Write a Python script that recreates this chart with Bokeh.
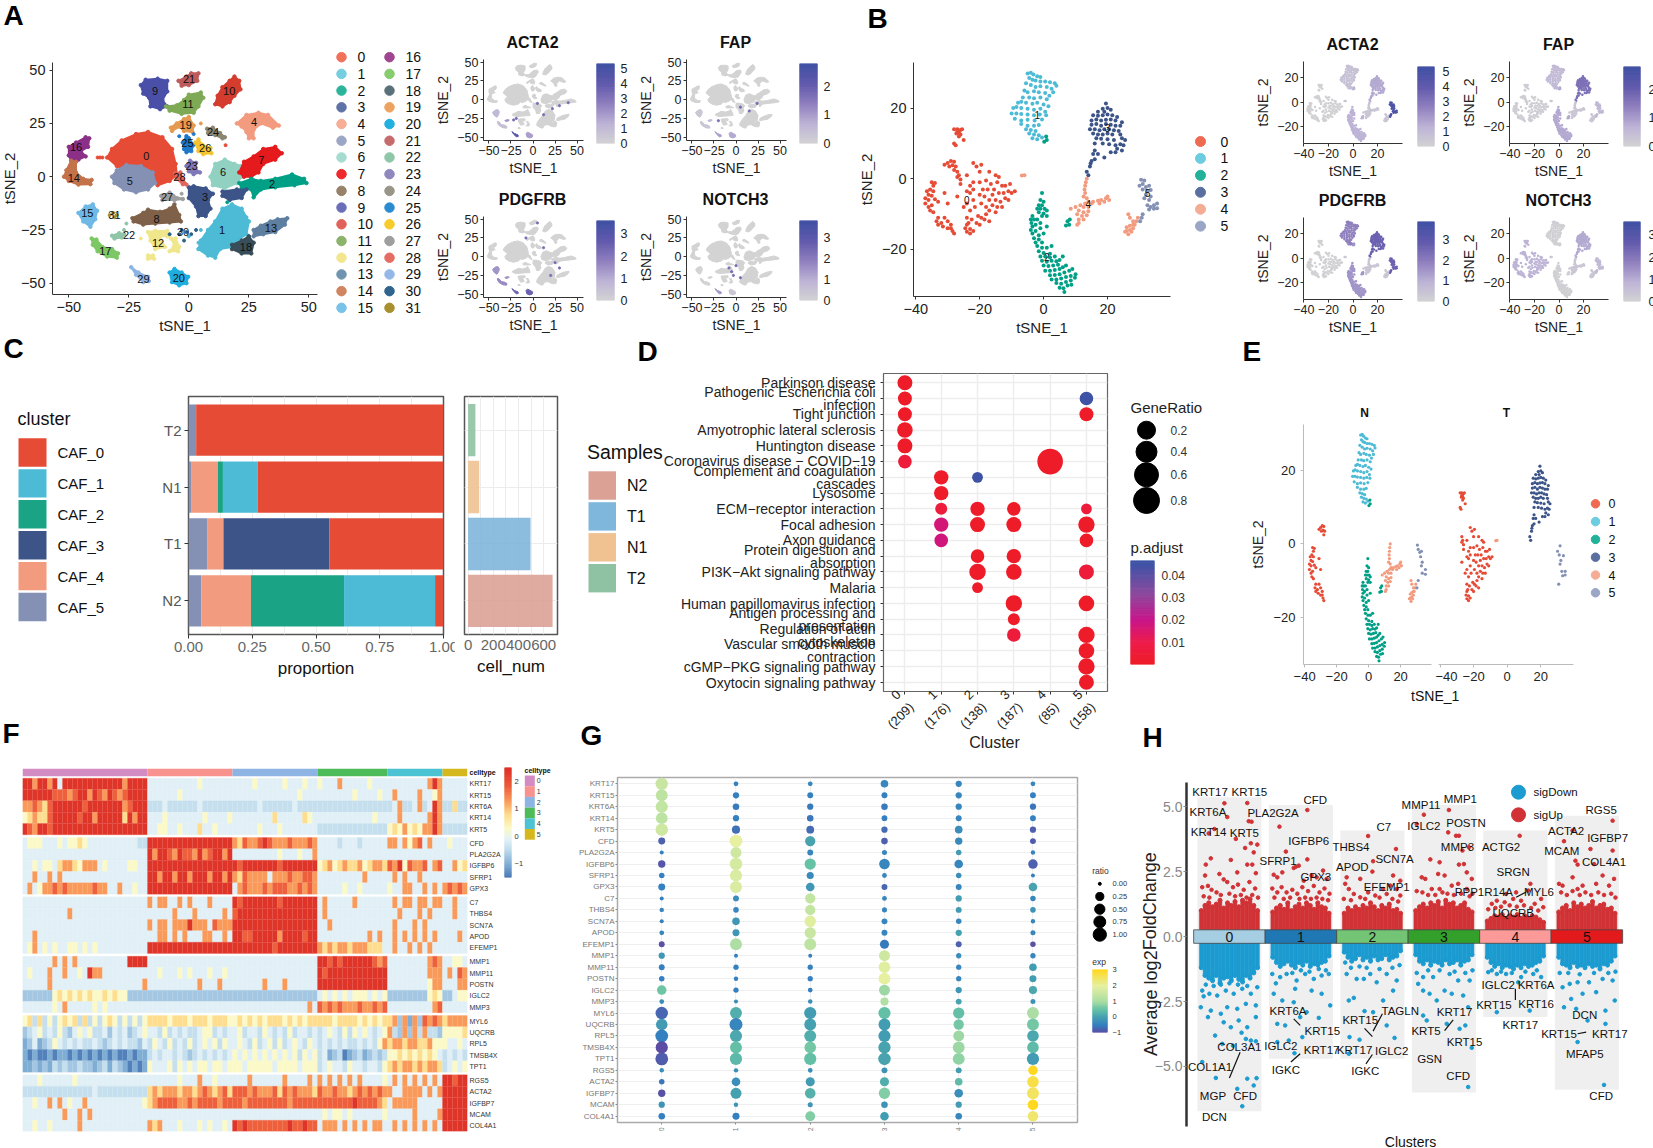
import numpy as np
from bokeh.plotting import figure
from bokeh.models import Range1d, Column, FixedTicker
from bokeh.core.properties import value
from bokeh.embed import file_html
from bokeh.resources import INLINE

FONT = "Liberation Sans"
# ---------------------------------------------------------------- panel A data (tSNE outlines of dense clusters)
A_COLORS = ["#E64B35","#4DBBD5","#00A087","#3C5488","#F39B7F","#8491B4","#91D1C2","#E41A1C","#7E6148","#4A4FA8","#D43C2E","#7FAA55","#F0E68C","#5F7FA0","#C4724A","#6EB9E6","#8B2F87","#7DC765","#384E5A","#E59A50","#1EAEE0","#BE5B5B","#8FC6A8","#8078B8","#8B8570","#1F78C8","#F4C430","#9E9E9E","#E0665C","#8EB4E3","#2E5F85","#A69030"]
A_LEGEND = ["#F0705A","#76CFE0","#2AB49B","#5E73A5","#F7AE96","#9CA7C6","#A6DCCF","#EE2A2E","#98806A","#6A6DB8","#E1625A","#8CB36B","#F2E78E","#7094AF","#D08560","#7AC3E8","#A04590","#88CC70","#5A7078","#EDA35F","#21B0E0","#C56B6B","#8FC6A8","#8E88BE","#9A9687","#2B8BD0","#F6CB2A","#9E9E9E","#E56C62","#93B8E8","#2E648E","#A8902F"]
A_PARTS = [
 (0,[(-34,9),(-32,13),(-28,17),(-22,20),(-17,21),(-11,18.5),(-7,13),(-5.5,6),(-5,1),(-8,-2),(-13,-4),(-14,0),(-20,2),(-26,3),(-30,5)]),
 (5,[(-32,0),(-30,3),(-26,5.5),(-20,5),(-15,2),(-14,-3),(-17,-6),(-22,-7.3),(-27,-6),(-31,-3)]),
 (16,[(-50,10),(-50,14),(-47,16),(-43,18.5),(-41.5,18),(-42,14),(-45,12),(-43,9.5),(-46,8),(-49,7.5)]),
 (14,[(-49,7.5),(-47,7),(-47,2),(-44,-1),(-40.5,-1.5),(-41,-3.5),(-46,-3.7),(-50,-2),(-52,0),(-51,3)]),
 (9,[(-20,43),(-18,45.5),(-13,46),(-9,45),(-9,40),(-11,36),(-9,33),(-12,31.7),(-16,33),(-16.5,37),(-19,39)]),
 (21,[(-4.3,45),(-1,47),(1,48.5),(4,48.5),(3.5,45),(0,43),(-3,42.7)]),
 (10,[(14,33),(11,34),(12,38),(14,42),(17,45),(19,47),(21,45),(21.5,41),(19,38),(17,35)]),
 (11,[(-9.5,33),(-5,33.5),(-2,36),(0,38.5),(5,39.5),(6,37),(4,33),(2,30),(-3,29.5),(-8,31)]),
 (19,[(-7.5,23),(-5,25),(-2,27),(0,28),(2,24),(1.5,21),(-2,21.5),(-4,23.5),(-7,21.5)]),
 (25,[(-2.5,16),(-1,19),(0,18),(2,15),(1,12),(-1,11.5),(-2,13)]),
 (26,[(2.7,16),(4,17.5),(5.5,15),(9,13.5),(9.4,11),(6,10.6),(4,12)]),
 (24,[(7.6,22.5),(10,23),(13,20.5),(15,18.5),(14,18),(11,19.5),(8,20.5)]),
 (4,[(20,25),(24,29),(29,30),(33,29),(37.5,24),(35,23),(30,25),(27,22),(27,18),(25,18),(24,21),(22,23.5)]),
 (6,[(9,0),(11,6),(15,8),(19,6),(22,5),(22,0),(20,-3),(15,-5.5),(10,-4)]),
 (7,[(21,2),(23,7),(27,9.5),(31,13),(36,14),(38.7,11),(36,8),(31,6),(29,2),(26,0),(23,0)]),
 (2,[(21,-3),(26,-1),(30,-2),(36,-1),(43,1),(48,-1),(49,-3),(44,-4),(36,-5),(30,-6),(27,-9.7),(26,-6),(22,-5.5)]),
 (3,[(0,-5),(2,-4.5),(7,-5.5),(10,-8),(8,-11),(9,-15),(7,-18.5),(4,-18.5),(3,-14),(0,-10)]),
 (3,[(14,-7),(20,-6),(24,-6),(22,-10),(17,-11),(14,-9)]),
 (1,[(5,-30),(8,-25),(11,-21),(14,-15),(18,-13),(22,-15),(25,-21),(24,-27),(20,-30),(18,-33),(13,-34),(11,-38),(8,-37),(4,-34)]),
 (13,[(27,-25),(30,-23),(34,-21),(37,-20),(41,-19.5),(40,-22.5),(36,-26),(31,-27),(27,-28)]),
 (18,[(18,-32),(22,-30),(25,-28),(27,-31),(26,-36),(22,-36),(18,-34)]),
 (8,[(-23.5,-19.5),(-19,-17),(-17,-15.5),(-12,-16.5),(-8,-15),(-6,-13),(-4,-18),(-3.3,-21),(-8,-21.5),(-14,-22),(-19,-22.5),(-23,-21)]),
 (15,[(-46,-17),(-43,-14),(-40,-13),(-38.2,-16),(-39,-20),(-41,-23.5),(-44,-21)]),
 (17,[(-40.5,-29),(-38.5,-29.5),(-36,-33),(-32,-34),(-29.5,-36),(-30,-38),(-34,-37.5),(-38,-35),(-40,-32)]),
 (22,[(-32,-27.7),(-29,-26.5),(-27,-27),(-28,-28.5),(-31,-29)]),
 (12,[(-17,-26),(-14,-25.5),(-9,-25.5),(-9,-28),(-12,-28),(-10,-33),(-14,-34),(-16,-30)]),
 (12,[(-7.5,-29),(-5.5,-29),(-4,-33),(-4.5,-35),(-8,-35),(-6,-32)]),
 (12,[(-17,-37),(-15,-37),(-14.5,-38.5),(-17,-38.5)]),
 (27,[(-11.5,-9),(-8,-7.5),(-6.5,-9),(-2.5,-10.5),(-6,-11),(-11,-11)]),
 (28,[(-5.8,1.5),(-3.5,2),(-2.5,-1),(-1,-3.7),(-2.5,-3.5),(-5,-1)]),
 (23,[(-1,5),(0.5,7.5),(3,6.5),(2.5,4),(4.6,2),(2,1.2),(0,2.5)]),
 (29,[(-24,-42.5),(-21,-45),(-17,-47),(-16.7,-49),(-19,-49.5),(-22,-46)]),
 (20,[(-8,-45),(-6,-43.3),(-3,-45),(-0.3,-47),(-1,-50),(-4,-51),(-7,-49.5)]),
]
A_LABEL_X = [-17.7,13.8,34.7,6.8,27.2,-24.6,14.3,30.2,-13.5,-14.1,16.8,-0.4,-12.8,34.2,-47.9,-42.3,-47,-34.8,23.8,-1.3,-4.2,0.1,-24.9,1.2,10.1,-0.6,6.8,-9.1,-3.9,-18.9,-2.4,-31]
A_LABEL_Y = [9.7,-25,-3.4,-9.5,25.8,-1.9,2,8,-19.7,40.2,40.3,34,-31,-24.2,-0.8,-16.9,13.8,-35,-33,24.2,-47.7,46,-27.5,5.2,20.8,15.6,13.3,-9.4,0,-48.1,-26.1,-18.1]
A_STRAY_X = [-38,-37,-36,-4,-8,1,3,-2,5,-27,-20,-2,5,15.3,-31.5,-30,-31,-33,-26,-1,-3,7,0,16,24,-3,-4,-5,2,4]
A_STRAY_Y = [9,9,9,-27,-27,-27,-25,-30,-25,-25,-29,27,25,14.8,-17,-18,-19,-18,-22,-26,-25,-29,-28,-12,-19,-8,19,24,20,-31]
A_STRAY_C = [0,0,0,30,30,30,30,30,1,22,12,19,19,0,31,31,31,31,22,30,30,1,1,2,1,27,25,19,25,1]
# tint of each expressing cluster in the four feature maps of panel A
A_GENES = ["ACTA2","FAP","PDGFRB","NOTCH3"]
A_TINT = {"ACTA2":{15:.2,17:.15,22:.4,29:.8,20:.35},"FAP":{15:.1,17:.1,22:.2,29:.35,20:.3},"PDGFRB":{15:.4,17:.45,22:.4,29:.7,20:.7},"NOTCH3":{29:.4,20:.1}}
A_DOTS_X = {"ACTA2":[-22,-19,5,12,22,30,40],"FAP":[-20,5,15,24],"PDGFRB":[5,12,-8,30,20,25],"NOTCH3":[-5,-8,-3,0,5]}
A_DOTS_Y = {"ACTA2":[-27,-25,-5,-20,-12,-8,-4],"FAP":[-28,-10,-15,-5],"PDGFRB":[45,12,25,-15,-25,-8],"NOTCH3":[-20,-15,-25,-12,-28]}
A_CBAR = {"ACTA2":(5.3,[0,1,2,3,4,5]),"FAP":(2.8,[0,1,2]),"PDGFRB":(3.6,[0,1,2,3]),"NOTCH3":(3.8,[0,1,2,3])}
# ---------------------------------------------------------------- panel B data
B_COLORS = ["#E64B35","#4DBBD5","#00A087","#3C5488","#F39B7F","#8491B4"]
B_LEGEND = ["#EE6A50","#6CCCE0","#22B29A","#5A6FA0","#F5AC95","#9BA6C6"]
B0 = [(-27,14),(-26.5,13),(-26,13.8),(-27.3,12.8),(-26,12.5),(-26.5,12),(-27,13.3),(-25.5,14),(-28,14),(-25,11),(-28,10),(-27.5,9.5),(-30,4.5),(-29,5),(-28,4.8),(-29.5,3.5),(-28.5,3.8),(-27.5,3.5),(-28,2.5),(-27,2),(-26.5,1),(-27,0.5),(-26,-0.2),(-31,4),(-22,4.5),(-21,3.5),(-20,2),(-19.5,4),(-24,1),(-26,-1.5),(-35,-1),(-34.5,-2),(-34,-1.2),(-35.5,-3),(-34.5,-3.5),(-36,-4.5),(-35,-4.8),(-37,-5.5),(-36,-6),(-34,-5.8),(-37,-7),(-36,-8),(-35,-7.5),(-35.5,-9),(-34.5,-9.5),(-33,-6.5),(-36.5,-3.5),(-30,-7),(-31,-4),(-27,-5),(-33,-11),(-33.5,-12),(-32,-12.5),(-31.5,-13.5),(-33,-13),(-30,-14),(-29,-14),(-30,-12),(-31,-11),(-29,-13),(-28,-15.5),(-28.5,-14.8),(-24,-13),(-24.5,-14),(-23,-14.2),(-24,-15),(-23,-15.5),(-22,-14.8),(-23.5,-12.5),(-22.5,-11.5),(-24,-11),(-21,-12.5),(-20,-13),(-19.5,-11),(-18.5,-11.5),(-18,-10),(-20.5,-10.5),(-17,-12),(-25,-8),(-24,-7),(-23,-9),(-22,-6),(-23,-4),(-21.5,-8),(-24,-3.5),(-23,-2),(-22,-3),(-20,-1),(-19,-3),(-20,-4.5),(-18.5,-5),(-17.5,-3),(-16.5,-1.5),(-18,-0.5),(-15.5,-3),(-16,-4.5),(-17,-6),(-15,-6),(-14,-4),(-13,-2),(-14.5,-1),(-12.5,-4),(-11,-3.5),(-12,-5.5),(-13.5,-6.5),(-14.5,-8),(-16,-7.5),(-18,-8),(-19.5,-7),(-12,-2),(-10,-4),(-9,-3.5),(-11,-6),(-10.5,-1.5),(-15,1),(-17,2),(-15,-9.5),(-13,-8),(-17,-9),(-14,0.5),(-22,-1)]
B1 = [(-5,29.8),(-4,30),(-3.2,29.5),(-2,29),(-1,28.8),(-4.5,28.5),(-3.5,28),(-2.5,27.8),(-1,27.5),(0.5,27.5),(2,27.3),(3.5,27),(4,26.3),(-5.5,27),(-4,26.5),(-2.5,26),(-1,26.2),(1,26),(2.5,25.5),(3,24.5),(-6,25),(-5,24.5),(-3,24.8),(-1.5,24.5),(0.5,24.3),(1.8,23.5),(-6.5,23),(-4.5,23),(-3,22.8),(-1,23),(1,22.5),(-8,21.5),(-7,21.8),(-5.5,21.5),(-3.5,21.2),(-2,21.5),(0,21),(1.5,20.5),(-9.5,20),(-8.5,20.3),(-7,20),(-5,19.8),(-3,19.5),(-1,19.8),(0.5,19),(-10,18.5),(-8.5,18.5),(-7,18.3),(-5,18.2),(-3,18),(-1.2,18.2),(0.8,18),(-9,17),(-7,16.5),(-5,16.7),(-2.8,16.5),(-0.5,16.8),(-7,15.5),(-5,15),(-3,15),(-1.5,15.2),(-5.5,14),(-4,13.8),(-2.5,13.5),(-4.5,12.8),(-3,12.5),(-1.5,12.3),(-3.5,11.5),(-2,11.2),(-0.5,11.7)]
B2 = [(0.8,12),(1,11),(0.2,10.5),(-0.5,-4),(-1,-6),(-0.5,-7.5),(0,-6.5),(-1.5,-7.5),(-2,-8.5),(-1,-8.5),(0.3,-8.5),(-1.5,-9.5),(0,-9.8),(1,-9),(-0.5,-10.5),(1,-10.5),(-3.5,-10.5),(-3,-11.5),(-4,-11.5),(-2,-11.5),(-3.8,-12.5),(-2.5,-13),(-1,-12.5),(-3.5,-13.5),(-4,-14.5),(-2.5,-14.8),(-1,-14),(1,-13.5),(-3.5,-15.5),(-1.5,-16),(0,-15.5),(-3,-16.8),(-1.5,-17.2),(-2.5,-18),(-0.5,-18),(-2,-19),(-0.5,-19.5),(1,-19.5),(-1.5,-20.5),(0,-21),(2,-21.2),(2.5,-19),(-1,-22),(0.5,-22),(2,-22.3),(3.5,-22),(-0.5,-23.2),(1,-23.5),(2.5,-23.2),(4,-23.3),(5,-23),(0,-24.5),(1.5,-24.7),(3,-24.5),(4.5,-24.3),(0.5,-26),(2,-26),(3.5,-25.8),(5,-25.5),(6,-25),(7,-24.5),(2,-27.3),(3.5,-27.2),(5,-27),(6.5,-26.5),(8,-26),(9,-25.5),(2.5,-28.5),(4,-28.5),(5.5,-28.2),(7,-27.8),(8.5,-27.5),(10,-27),(4,-29.5),(5.5,-29.7),(7,-29.2),(8.5,-28.8),(9.8,-28),(5,-30.8),(6.2,-31),(7.5,-30.2),(8.7,-30),(6.5,-32),(7.5,-12),(8,-13),(7,-13.2),(8.2,-11.5),(6,-22)]
B3 = [(19.5,21.3),(20,20),(18.5,19.8),(17,19),(19,19),(21,19.5),(15.5,18),(17,17.8),(18.5,18),(20,18.2),(21.5,18),(23,17.5),(15,16.5),(16.5,16.8),(18,16.5),(19.5,16.7),(21,16.8),(22.5,16.5),(24.5,16),(15,15.3),(16.5,15.5),(18,15),(19.5,15.5),(21,15.3),(22.5,15),(24,15),(14.5,14),(16,14),(17.5,13.7),(19,14),(20.5,14),(22,13.7),(23.5,13.5),(15.5,12.8),(17,12.5),(18.5,12.5),(20,12.8),(21.5,12.5),(24,12.5),(16.5,11.5),(18,11.3),(20,11.2),(22,11),(24.5,11.5),(25.5,11),(16,10),(18.5,10),(20.5,9.8),(22.5,9.5),(24,9.8),(25,9.5),(23,8.5),(24.5,8),(22.5,7.5),(21,7.5),(16,8),(15.5,7),(17,7),(16,5.5),(15,5),(14.5,3.5),(13.5,2),(14.7,4.3),(19,6),(14,1)]
B4 = [(-6.8,0.9),(-6,1),(13.5,0),(13.2,-1),(13,-2),(12.8,-3),(13,-4),(12.5,-5),(13.5,-5.5),(14,-6.5),(15,-7),(13,-7),(11.5,-7.5),(10,-8),(8.5,-8.5),(12.5,-8),(14,-8),(15.5,-6.5),(17,-6.2),(18,-6),(19.5,-5.5),(20.5,-6),(19,-6.5),(17.5,-7),(20,-5),(11,-9),(12.5,-9.5),(14,-9.2),(10.5,-10),(12,-10.5),(13.5,-10.3),(11,-11.5),(12.5,-11.5),(11,-12.5),(10.5,-13),(27,-11),(26.5,-10),(28,-12),(28,-13),(27,-13.3),(26,-13.7),(28,-14),(27,-14.5),(26,-14.8),(25.5,-15),(27.5,-15),(26.5,-15.7),(28.5,-13),(29,-12),(29.5,-11)]
B5 = [(30.5,-0.3),(31.5,-0.5),(31,-1.5),(30,-2),(32,-2.3),(31,-3),(32.5,-3.5),(33.5,-3.2),(33,-2),(32,-4.5),(33.5,-5),(31.5,-5.5),(33,-6),(32.5,-7.5),(33.5,-8),(34.5,-7.5),(35.5,-7),(34.5,-8.5),(35.5,-8.3),(33,-8.7),(31,-10),(30.7,-11),(30.2,-12)]
B_ALL = [B0,B1,B2,B3,B4,B5]
B_LABEL_X = [-24,-2,1,20,14,32.5]
B_LABEL_Y = [-6,18,-22,14.5,-7,-4]
B_GENES = ["ACTA2","FAP","PDGFRB","NOTCH3"]
B_TINT = {"ACTA2":[.02,.15,.25,.3,.1,.9],"FAP":[.05,.2,.3,.6,.1,.2],"PDGFRB":[.02,.5,.4,.7,.1,.7],"NOTCH3":[.25,.04,.03,.3,.1,.2]}
B_CBAR = {"ACTA2":(5.3,[0,1,2,3,4,5]),"FAP":(2.8,[0,1,2]),"PDGFRB":(3.9,[0,1,2,3]),"NOTCH3":(3.6,[0,1,2,3])}
# ---------------------------------------------------------------- panel C data
C_SAMPLES = ["N2","T1","N1","T2"]
C_CLUSTERS = ["CAF_0","CAF_1","CAF_2","CAF_3","CAF_4","CAF_5"]
C_COLORS = ["#E64B35","#4DBBD5","#1AA385","#3C5488","#F39B7F","#8491B4"]
C_CAF5 = [.05,.075,.01,.03]
C_CAF4 = [.195,.062,.105,0]
C_CAF3 = [0,.415,0,0]
C_CAF2 = [.365,0,.02,0]
C_CAF1 = [.357,0,.137,0]
C_CAF0 = [.033,.448,.728,.97]
C_CELLS = [671,496,88,58]
C_CELL_COLORS = ["#DBA195","#7FB6DC","#F0C291","#8FC2A2"]
# ---------------------------------------------------------------- panel D data
D_TERMS = ["Parkinson disease","Pathogenic Escherichia coli\ninfection","Tight junction","Amyotrophic lateral sclerosis","Huntington disease","Coronavirus disease − COVID−19","Complement and coagulation\ncascades","Lysosome","ECM−receptor interaction","Focal adhesion","Axon guidance","Protein digestion and\nabsorption","PI3K−Akt signaling pathway","Malaria","Human papillomavirus infection","Antigen processing and\npresentation","Regulation of actin\ncytoskeleton","Vascular smooth muscle\ncontraction","cGMP−PKG signaling pathway","Oxytocin signaling pathway"]
D_CLUSTER_LABELS = ["0\n(209)","1\n(176)","2\n(138)","3\n(187)","4\n(85)","5\n(158)"]
D_COL = [0,0,5,0,5,0,0,0,4,1,2,1,1,2,3,5,1,2,3,5,1,5,2,3,2,3,5,2,3,5,3,3,5,5,5,5]
D_ROW = [0,1,1,2,2,3,4,5,5,6,6,7,8,8,8,8,9,9,9,9,10,10,11,11,12,12,12,13,14,14,15,16,16,17,18,19]
D_RATIO = [.25,.2,.18,.2,.2,.28,.25,.18,.78,.22,.04,.22,.1,.22,.18,.04,.22,.25,.25,.32,.18,.18,.18,.22,.32,.28,.25,.04,.32,.28,.1,.18,.32,.28,.32,.25]
D_PADJ = [.001,.001,.045,.001,.001,.001,.001,.006,.001,.001,.045,.001,.006,.001,.001,.006,.017,.001,.001,.001,.018,.001,.001,.001,.001,.001,.006,.001,.001,.001,.001,.006,.001,.001,.001,.001]
# ---------------------------------------------------------------- panel F data (one character per column: 0 dark blue .. 9 red)
F_GENES = ["KRT17","KRT15","KRT6A","KRT14","KRT5","CFD","PLA2G2A","IGFBP6","SFRP1","GPX3","C7","THBS4","SCN7A","APOD","EFEMP1","MMP1","MMP11","POSTN","IGLC2","MMP3","MYL6","UQCRB","RPL5","TMSB4X","TPT1","RGS5","ACTA2","IGFBP7","MCAM","COL4A1"]
F_CLUSTER_COLS = [25,17,17,14,11,5]
F_CLUSTER_COLORS = ["#D28CC3","#F8928E","#8DB4E2","#4DBB5A","#4CC3D2","#D4B81E"]
F_ROWS = [
"9979979499999999999979999 44444444445444444 44445444445444544 54447444445444 44444444797 44444",
"9999998887899798798789999 44444454444444444 44444444444445444 44444445444454 47444474457 44444",
"7787689999998999999978999 33343333334333333 33333433333343333 33333333333333 34733473497 33633",
"5676689999989979999969799 44454444444544445 44444444644444654 44444444444544 44744444797 44444",
"9879989999999999999999999 44554454446445444 44444544454444444 33333333333333 56575657797 33333",
"4555444545565444444444433 99999999999999999 76877898777877787 44443444344444 77475784744 45444",
"4444444444444444444444444 97998798879789979 44444444454445447 44444444444444 44444444444 44444",
"4454554677657774544445544 99999999999999999 98999999989999999 56756766756776 87958778478 44756",
"4474474744444444444444444 99799799799979979 76877774777877887 44444444474444 47474474444 44444",
"4745778787777787744744544 99999999999999999 47877787888778787 44444544544444 54477447474 78787",
"4444444444444444444444444 74774474744474444 98999999989999999 47444447444444 47477477477 44744",
"4444444447444444444444444 44444744474444474 89999999999999999 47444444444444 44744474744 44744",
"4444444444444444444444444 74774777977748777 99999999999999999 44744444444444 47444747444 44444",
"4474444444444444444444444 44774747444774474 99889999979999899 44444444447474 47474747474 44474",
"4574545445545454444444444 99999999999999999 99999999899999999 76767767776664 47447474744 44444",
"4444447474744444444449999 44444444444444444 44444444444444444 99898999999878 44444444787 44554",
"4544474474454977444444444 44544454544454454 44444444444444444 98999999999999 44444444777 47487",
"4444474444444444444444447 44444444447444744 44444474447444444 99999999999999 44444444577 44477",
"2222225656565655656552222 22222222222222222 22222222222222222 45454545554545 22222222565 22455",
"4444445474444454544444444 44444444444444444 44444444444444474 87878777877878 44444444478 44444",
"5636353565636353565353535 66665666566656665 56565656665656566 66656666565656 67271728787 67777",
"2345343532454533424342345 44353434334553434 45344354343534434 34543535454345 73272737332 55556",
"1241235434343343234343324 35435343534545354 45435345353454354 34343433434357 67767766755 54454",
"1010010110101010101001011 34344343234343434 54545454545453545 34123012312323 55656565654 34343",
"1121213232232212313210101 54445354545545545 55455555455554555 34544354434435 67677676776 34545",
"4445444444544444444444444 44444454447445444 44474444447444474 74747474744445 47474747474 99899",
"3333333333333343333333333 67677767767876786 88878777868787776 87787767878787 74477774747 99999",
"4454474745447444444444445 67888877878888788 88788888888788888 88888889888876 47777744444 99999",
"4444444474474744444444444 44444444444444444 44444444444444444 45455454444445 44444744447 99999",
"4454454444474444444444444 76744454445454454 98988888888988988 47774747474774 47474747474 99999",
]
F_LEVELS = [-1.4,-1.0,-.7,-.4,-.12,.3,.8,1.3,1.8,2.4]
# ---------------------------------------------------------------- panel G data (six clusters per gene)
G_GENES = F_GENES
G_RATIO = [[.83,.03,.03,.2,.1,.03],[.75,.1,.08,.08,.1,.08],[.8,.12,.1,.12,.1,.1],[.72,.1,.12,.07,.08,.08],[.85,.25,.22,.1,.2,.1],[.15,.9,.5,.12,.18,.08],[.01,.6,.08,.04,.06,.02],[.18,.85,.65,.55,.3,.4],[.06,.8,.16,.03,.06,.01],[.15,.78,.3,.08,.08,.3],[.01,.08,.5,.03,.1,.06],[.02,.06,.5,.04,.08,.06],[.01,.2,.7,.08,.06,.02],[.03,.15,.65,.08,.1,.04],[.08,.75,.75,.35,.08,.06],[.1,.01,.01,.6,.05,.05],[.08,.05,.05,.7,.05,.2],[.06,.02,.05,.75,.05,.15],[.4,.05,.03,.6,.1,.25],[.03,.01,.02,.25,.08,.04],[.85,.75,.8,.8,.65,.75],[.7,.95,.75,.75,.5,.75],[.9,.8,.75,.8,.6,.7],[.8,.75,.7,.8,.75,.7],[.9,.8,.8,.85,.75,.8],[.02,.02,.03,.08,.08,.4],[.06,.3,.35,.35,.2,.7],[.18,.6,.55,.65,.3,.75],[.1,.02,.04,.12,.1,.55],[.12,.15,.45,.3,.12,.55]]
G_EXP = [[1.5,-.5,-.4,-.4,-.4,-.4],[1.3,-.5,-.5,-.5,-.4,-.5],[1.4,-.55,-.55,-.55,-.4,-.6],[1.3,-.5,-.6,-.5,-.4,-.5],[1.6,-.65,-.7,-.7,-.3,-.8],[-.8,2,.05,-.8,-.35,-.85],[-.5,1.6,-.4,-.4,-.1,-.4],[-.9,1.7,.5,-.4,-.4,-.8],[-.5,1.8,-.35,-.4,-.3,-.5],[-.5,1.8,-.15,-.75,-.4,.05],[-.5,-.3,1.4,-.4,-.05,-.4],[-.4,-.4,1.4,-.4,-.1,-.2],[-.5,-.15,1.9,-.4,-.4,-.4],[-.4,-.15,1.5,-.4,0,-.4],[-.95,1.05,1.3,-.55,-.8,-.95],[-.15,-.5,-.5,1.6,-.3,-.4],[-.5,-.5,-.5,1.9,-.4,-.05],[-.5,-.5,-.5,2,-.4,-.05],[.55,-.5,-.5,.9,-.15,.1],[-.3,-.3,-.3,1.1,.05,-.2],[-.75,.2,-.05,.45,.45,1],[-.1,-.4,0,-.05,.6,.6],[-.5,.1,.2,-.05,.9,.1],[-1,.45,.6,.05,.9,.4],[-.85,.35,.45,.05,.8,-.1],[-.3,-.3,-.3,-.2,-.05,3],[-.6,-.3,-.1,.2,.4,2.7],[-.95,0,.25,.7,-.3,2.5],[-.2,-.2,-.2,-.2,-.1,3],[-.5,-.5,.7,-.05,-.4,2.4]]
# ---------------------------------------------------------------- panel H data
H_BAR_COLORS = ["#A6CEE3","#1F78B4","#74C476","#33A02C","#FB9A99","#E31A1C"]
H_TOP = [5.36,5.06,4.08,5.06,4.08,4.65]
H_BOTTOM = [-6.72,-4.7,-4.7,-6,-3.1,-5.9]
H_UP_EDGE = [[1.0,1.2,1.3,1.15,1.25,1.4,1.1,1.3,1.2,1.35,1.15,1.4,1.3,1.45,1.2,1.0],[.95,1.1,1.2,1.05,1.3,1.0,1.15,1.25,1.1,1.3,1.2,1.05,1.3,1.15,1.1,.9],[.9,1.1,1.0,1.15,1.05,1.2,1.1,1.3,1.15,1.0,1.2,1.1,1.25,1.0,1.05,.9],[1.0,1.15,1.25,1.1,1.3,1.2,1.35,1.1,1.4,1.25,1.3,1.1,1.2,1.3,1.05,.95],[.6,.7,.8,.75,.85,.7,.8,.75,.85,.7,.8,.7,.8,.75,.65,.55],[.95,1.1,1.2,1.0,1.3,1.15,1.25,1.1,1.2,1.35,1.1,1.2,1.25,1.05,1.1,.9]]
H_DOWN_EDGE = [[-1.2,-1.5,-1.6,-1.7,-1.5,-1.8,-1.6,-1.55,-1.7,-1.5,-1.65,-1.75,-1.5,-1.6,-1.4,-1.2],[-.8,-1,-1.15,-1.05,-.95,-1.1,-1.2,-1,-1.1,-.95,-1.15,-1.05,-1.1,-1,-.95,-.75],[-.6,-.8,-.95,-.85,-.7,-.9,-.8,-.95,-.75,-.9,-.85,-.7,-.9,-.8,-.75,-.55],[-.7,-.95,-1.05,-.9,-1.1,-.95,-1.0,-1.1,-.9,-1.05,-1,-.9,-1.1,-.95,-.9,-.7],[-.8,-1.0,-1.15,-1.05,-1.2,-1.1,-1.15,-1.25,-1.1,-1.2,-1.05,-1.15,-1.1,-1.0,-.95,-.75],[-.8,-1.05,-1.1,-1.2,-1,-1.15,-1.1,-1.2,-1.05,-1.15,-1.1,-1.25,-1.05,-1.1,-.95,-.75]]
H_UP = [
 [(-.07,5.13),(.25,5.14),(-.03,4.6),(.27,4.44),(.31,4.42),(-.21,4.14),(-.29,3.97),(.09,3.76),(.3,3.59),(.39,3.54),(.22,3.41),(.34,3.24),(.02,2.95),(-.26,3.01),(-.33,2.77),(.25,2.77),(.32,2.77),(-.34,2.35),(-.14,2.41),(.11,2.47),(.37,2.44),(-.38,1.9),(-.3,1.95),(-.25,1.8),(-.18,1.7),(-.08,2.2),(-.03,2.1),(.05,1.9),(.12,2.0),(.2,1.8),(.28,2.1),(.36,1.85),(-.36,1.55),(-.28,1.5),(-.12,1.6),(.0,1.65),(.08,1.55),(.16,1.6),(.24,1.5),(.32,1.6),(.4,1.5)],
 [(.09,4.87),(-.3,4.23),(-.21,3.27),(.09,2.97),(-.1,2.64),(-.07,2.69),(-.03,2.73),(-.38,2.38),(-.33,2.28),(.04,2.15),(.15,2.35),(.22,2.28),(.31,2.54),(.36,2.22),(-.26,2.47),(-.4,1.85),(-.33,1.7),(-.27,1.9),(-.2,1.7),(-.12,1.8),(-.05,1.65),(.02,1.9),(.1,1.75),(.18,1.95),(.26,1.7),(.33,1.85),(.4,1.65),(-.37,1.5),(-.24,1.45),(-.15,1.5),(-.02,1.45),(.06,1.5),(.14,1.45),(.22,1.5),(.3,1.45),(.38,1.4)],
 [(-.06,3.87),(.33,3.37),(.01,2.9),(0,2.5),(-.36,2.28),(-.17,2.22),(.29,2.35),(.39,2.15),(-.38,2.03),(-.33,1.83),(-.06,1.7),(.15,1.83),(.25,1.96),(.34,1.83),(-.26,1.64),(-.17,1.51),(.04,1.58),(.2,1.64),(.39,1.58),(-.4,1.45),(-.3,1.4),(-.1,1.45),(.1,1.5),(.28,1.45),(.36,1.35)],
 [(-.28,4.69),(.07,4.87),(-.38,4.33),(.06,4.01),(.17,3.88),(.21,3.88),(.35,3.44),(.26,3.31),(-.19,2.97),(-.06,2.86),(.21,2.77),(.28,2.79),(-.08,2.41),(.01,2.35),(.32,2.47),(-.31,2.28),(-.26,2.22),(.39,2.22),(-.17,1.83),(-.06,1.83),(.11,1.96),(.2,2.03),(.32,1.83),(-.38,1.75),(-.3,1.7),(-.22,1.6),(-.12,1.6),(-.02,1.7),(.05,1.65),(.14,1.6),(.24,1.65),(.36,1.55),(.4,1.65)],
 [(.06,3.88),(.21,2.03),(-.13,1.64),(.01,1.7),(.18,1.77),(.36,1.45),(-.33,1.26),(-.26,1.38),(-.15,1.32),(-.03,1.45),(.08,1.38),(.27,1.26),(.39,1.13),(-.38,1.05),(-.28,1.1),(-.2,1.15),(-.08,1.2),(.02,1.15),(.12,1.2),(.22,1.1),(.32,1.0)],
 [(.36,4.46),(-.2,4.08),(-.32,3.67),(.05,3.37),(.36,3.31),(-.16,2.92),(-.13,2.77),(.1,2.79),(-.34,1.96),(-.2,2.28),(-.06,1.96),(.22,2.35),(.38,2.22),(-.39,2.03),(-.13,1.83),(.13,2.03),(.31,1.96),(-.36,1.7),(-.28,1.6),(-.2,1.75),(-.1,1.6),(-.02,1.7),(.06,1.6),(.16,1.7),(.24,1.6),(.34,1.65),(.4,1.5)],
]
H_DOWN = [
 [(-.38,-4.83),(-.19,-5.44),(.18,-6.53),(.11,-5.86),(.25,-5.47),(.38,-5.45),(.34,-5.73),(.23,-3.94),(.37,-4.03),(-.4,-2.72),(-.3,-3.1),(-.2,-3.81),(-.1,-4.13),(.02,-3.49),(.13,-3.23),(.25,-3.49),(.37,-3.1),(-.26,-2.85),(-.12,-2.97),(-.03,-2.72),(.11,-2.78),(.23,-2.59),(.37,-2.65),(-.38,-2.08),(-.28,-2.2),(-.17,-2.27),(-.05,-2.08),(.06,-2.2),(.18,-2.01),(.3,-2.2),(.39,-1.95),(-.33,-1.85),(-.22,-1.9),(-.12,-1.85),(.0,-1.8),(.12,-1.85),(.25,-1.9),(-.36,-2.3),(-.08,-3.3),(.05,-4.2),(.17,-3.7),(.3,-4.0)],
 [(-.38,-2.2),(-.26,-2.46),(-.1,-2.53),(-.08,-2.01),(.15,-2.08),(.25,-3.13),(.41,-2.65),(-.22,-3.42),(-.33,-3.36),(.02,-3.87),(-.33,-4.06),(-.17,-4.0),(-.09,-4.49),(-.01,-3.1),(.08,-2.91),(.29,-2.2),(-.4,-1.44),(-.29,-1.56),(-.2,-1.44),(-.06,-1.69),(.06,-1.44),(.18,-1.63),(.29,-1.5),(.39,-1.44),(-.35,-1.8),(-.12,-1.4),(.0,-1.3),(.12,-1.35),(.25,-1.25),(.35,-1.3)],
 [(-.33,-2.46),(-.26,-2.36),(-.32,-3.87),(-.18,-3.97),(-.33,-4.51),(-.11,-2.87),(.01,-2.91),(.29,-2.08),(.15,-2.46),(.2,-3.42),(.31,-3.9),(-.22,-1.63),(-.12,-1.63),(.06,-1.76),(.2,-1.44),(.34,-1.69),(-.36,-1.44),(-.03,-1.44),(-.3,-1.2),(-.18,-1.15),(-.08,-1.2),(.1,-1.25),(.28,-1.2),(.38,-1.1),(-.38,-1.0)],
 [(.34,-5.79),(.39,-4.28),(.3,-3.42),(.22,-3.55),(.04,-3.36),(-.24,-3.23),(-.29,-3.04),(-.36,-1.82),(-.29,-2.08),(-.2,-2.2),(-.1,-2.46),(.01,-2.08),(.11,-2.2),(.27,-2.27),(.36,-1.69),(.34,-2.72),(-.29,-1.56),(-.15,-1.56),(.08,-1.44),(.2,-1.69),(-.38,-1.4),(-.22,-1.3),(-.06,-1.3),(.15,-1.35),(.3,-1.4),(.4,-1.3)],
 [(-.38,-1.37),(-.26,-1.44),(-.26,-2.91),(.2,-2.85),(.04,-1.76),(-.13,-1.44),(.08,-1.56),(.25,-1.44),(.36,-1.56),(-.33,-1.3),(-.2,-1.35),(-.05,-1.4),(.14,-1.35),(.3,-1.3)],
 [(.24,-5.71),(.39,-2.46),(-.13,-4.06),(-.22,-2.4),(-.32,-2.72),(-.34,-1.95),(-.15,-2.78),(.01,-3.23),(.26,-3.36),(.13,-2.14),(.26,-2.85),(-.06,-2.2),(-.24,-1.82),(-.13,-1.76),(.03,-1.76),(.22,-1.63),(.36,-1.69),(-.38,-1.4),(-.26,-1.4),(-.1,-1.45),(.1,-1.4),(.3,-1.4),(.4,-1.35)],
]
H_LABELS = ["KRT17","KRT15","KRT6A","PLA2G2A","KRT14","KRT5","CFD","IGFBP6","SFRP1","GPX3","C7","THBS4","SCN7A","APOD","EFEMP1","MMP11","MMP1","IGLC2","POSTN","MMP3","ACTG2","SRGN","PPP1R14A","MYL6","UQCRB","RGS5","ACTA2","IGFBP7","MCAM","COL4A1","KRT6A","KRT15","IGLC2","KRT17","IGKC","KRT15","TAGLN","KRT17","IGLC2","IGKC","KRT17","KRT5","KRT15","GSN","CFD","IGLC2","KRT6A","KRT15","KRT16","KRT17","DCN","KRT15","KRT17","MFAP5","CFD","COL3A1","COL1A1","MGP","CFD","DCN"]
H_LABEL_X = [-.27,.28,-.3,.61,-.29,.21,1.2,1.11,.68,1.21,2.16,1.7,2.31,1.72,2.2,2.68,3.23,2.72,3.31,3.19,3.8,3.97,3.56,4.33,3.97,5.2,4.71,5.29,4.65,5.24,.82,1.3,.72,1.29,.79,1.83,2.39,1.75,2.27,1.9,3.15,2.75,3.29,2.8,3.2,3.76,4.29,3.7,4.29,4.07,4.97,4.61,5.32,4.97,5.2,.14,-.27,-.23,.22,-.21]
H_LABEL_Y = [5.55,5.55,4.78,4.76,4.03,4,5.27,3.68,2.91,2.28,4.21,3.46,2.97,2.69,1.91,5.08,5.29,4.27,4.36,3.44,3.44,2.47,1.71,1.71,.92,4.87,4.08,3.79,3.31,2.86,-2.85,-3.63,-4.23,-4.38,-5.13,-3.23,-2.88,-4.38,-4.42,-5.18,-2.91,-3.65,-4.06,-4.73,-5.37,-1.86,-1.85,-2.63,-2.6,-3.4,-3,-3.74,-3.74,-4.51,-6.14,-4.26,-5.03,-6.12,-6.12,-6.95]
H_SEG_X0 = [0,.9,.86,2.14,1.89,1.91,3.13,4,4.15,4.87]
H_SEG_Y0 = [-5.44,-3.17,-4.83,-2.97,-3.53,-4.9,-3.21,-2.01,1.71,-3.74]
H_SEG_X1 = [.15,.99,.99,2.01,2.0,2,3.01,4,4.01,4.99]
H_SEG_Y1 = [-4.45,-3.42,-4.51,-3.64,-3.85,-4.54,-3.62,-2.44,1.51,-3.68]
# ---------------------------------------------------------------- colour scales
PURPLE = [(0,"#D3D3D3"),(.25,"#BDB3D6"),(.5,"#8F7FBE"),(.75,"#6159AC"),(1,"#3F50A3")]
PADJ = [(0,"#EE1C25"),(.01,"#EE1C4A"),(.02,"#C8158A"),(.032,"#8A4A9E"),(.045,"#3F53A6")]
HEAT = [(-1.5,"#4575B4"),(-1,"#7FADD4"),(-.5,"#BBD9EB"),(-.1,"#E2F1F7"),(.3,"#FBF9C8"),(.8,"#FEDD8E"),(1.3,"#F99A5A"),(1.8,"#EE5F3C"),(2.5,"#DD2E26")]
SPEC = [(-1,"#5D4CA3"),(-.5,"#3480C0"),(0,"#45A0B0"),(.5,"#66C2A5"),(1,"#ABDDA4"),(2,"#E6F0A0"),(3,"#FFD821")]

def hx(c):
    return [int(c[i:i+2],16) for i in (1,3,5)]
def cmap(stops,v):
    xs=[s[0] for s in stops]; rgb=np.array([hx(s[1]) for s in stops])
    return "#%02x%02x%02x"%tuple(int(round(np.interp(v,xs,rgb[:,i]))) for i in range(3))
def minus(t):
    return str(t).replace("-","−")
PAGE=[]
def fig(x0,y0,x1,y1,xr,yr,ml=60,mr=12,mt=10,mb=50,xloc="below",yloc="left"):
    p=figure(width=int(round(x1-x0))+ml+mr,height=int(round(y1-y0))+mt+mb,min_border_left=ml,min_border_right=mr,min_border_top=mt,min_border_bottom=mb,
             x_range=Range1d(*xr),y_range=Range1d(*yr),output_backend="svg",toolbar_location=None,border_fill_color=None,background_fill_color=None,
             outline_line_color=None,x_axis_location=xloc,y_axis_location=yloc,frame_align=False)
    p.styles={"position":"absolute","left":f"{x0-ml}px","top":f"{y0-mt}px"}
    p.grid.visible=False
    PAGE.append(p)
    return p
def style(ax,ticks,labels=None,size=13,color="#222222",tick=3,line="#333333",lw=1,label=None,label_size=15,standoff=2,lab_standoff=3,orient=None,tick_color=None):
    ax.ticker=FixedTicker(ticks=list(ticks))
    ax.minor_tick_line_color=None
    ax.major_tick_out=tick; ax.major_tick_in=0
    ax.major_tick_line_color=tick_color or line or "#333333"
    ax.axis_line_color=line; ax.axis_line_width=lw
    ax.major_label_text_font=FONT; ax.major_label_text_font_size=f"{size}px"; ax.major_label_text_color=color
    ax.major_label_standoff=standoff
    ax.major_label_overrides={t:(labels[i] if labels else minus(t)) for i,t in enumerate(ticks)}
    if orient is not None: ax.major_label_orientation=orient
    if label:
        ax.axis_label=label; ax.axis_label_text_font=FONT; ax.axis_label_text_font_size=f"{label_size}px"
        ax.axis_label_text_font_style="normal"; ax.axis_label_text_color=color; ax.axis_label_standoff=lab_standoff
def cbar(x0,y0,x1,y1,vmin,vmax,stops,ticks,size=13,labels=None,color="#222222",standoff=4):
    p=fig(x0,y0,x1,y1,(0,1),(vmin,vmax),ml=0,mr=34,mt=10,mb=10,xloc=None,yloc="right")
    n=64; e=np.linspace(vmin,vmax,n+1)
    cs=[cmap(stops,v) for v in (e[:-1]+e[1:])/2]
    p.quad(left=0,right=1,bottom=e[:-1],top=e[1:],fill_color=cs,line_color=cs,line_width=1)
    style(p.yaxis[0],ticks,labels=labels,size=size,tick=0,line=None,standoff=standoff,color=color)
    return p
# ---------------------------------------------------------------- canvas for page-level texts and legends (moved to the top of the stack at the end)
canvas=fig(8,8,1645,1140,(8,1645),(1140,8),ml=0,mr=0,mt=0,mb=0,xloc=None,yloc=None)
def T(x,y,s,size=14,bold=False,align="left",color="#111111",angle=0):
    xs=[x] if not isinstance(x,(list,np.ndarray)) else list(x)
    ys=[y] if not isinstance(y,(list,np.ndarray)) else list(y)
    ss=[s] if isinstance(s,str) else list(s)
    canvas.text(xs,ys,text=ss,text_font=value(FONT),text_font_size=value(f"{size}px"),text_font_style="bold" if bold else "normal",text_align=align,text_baseline="middle",text_color=color,angle=angle)
for s,x,y in [("A",3,15),("B",867,18),("C",3,348),("D",637,351),("E",1242,351),("F",2,733),("G",580,735),("H",1142,737)]:
    lf=fig(x,y-18,x+34,y+18,(0,1),(0,1),ml=0,mr=0,mt=0,mb=0,xloc=None,yloc=None)
    lf.text([0],[.5],text=[s],text_font=value(FONT),text_font_size=value("28px"),text_font_style="bold",text_align="left",text_baseline="middle",text_color="#000000")
# ---------------------------------------------------------------- panel A
pa=fig(51.8,61.7,316.8,294,(-56.8,53.6),(-55.3,53.6),ml=60,mr=20,mb=50)
style(pa.xaxis[0],[-50,-25,0,25,50],size=14.5,label="tSNE_1",label_size=15,standoff=4,lab_standoff=2)
style(pa.yaxis[0],[-50,-25,0,25,50],size=14.5,label="tSNE_2",label_size=15,standoff=4,lab_standoff=0)
pa.yaxis[0].major_label_orientation="horizontal"
for cid,pts in A_PARTS:
    xs,ys=zip(*pts); c=A_COLORS[cid]
    pa.patch(list(xs),list(ys),fill_color=c,line_color=c,line_width=2)
    pa.scatter(list(xs),list(ys),size=3.5,color=c)
pa.scatter(A_STRAY_X,A_STRAY_Y,size=3,color=[A_COLORS[c] for c in A_STRAY_C])
pa.text(A_LABEL_X,A_LABEL_Y,text=[str(i) for i in range(32)],text_font=value(FONT),text_font_size=value("11px"),text_align="center",text_baseline="middle",text_color="#111111")
lx=[341]*16+[389]*16; ly=[56.7+16.71*i for i in range(16)]*2
canvas.scatter(lx,ly,size=9.5,color=A_LEGEND)
T([x+16 for x in lx],ly,[str(i) for i in range(32)],size=14)
for gi,g in enumerate(A_GENES):
    dx=203*(gi%2); dy=157*(gi//2)
    p=fig(482+dx,59+dy,583+dx,140+dy,(-56.2,57.3),(-54.4,53.6),ml=50,mr=8,mb=42)
    style(p.xaxis[0],[-50,-25,0,25,50],size=12.5,label="tSNE_1",label_size=14,standoff=2,lab_standoff=2)
    style(p.yaxis[0],[-50,-25,0,25,50],size=12.5,label="tSNE_2",label_size=14,standoff=2,lab_standoff=3)
    for cid,pts in A_PARTS:
        xs,ys=zip(*pts); c=cmap(PURPLE,A_TINT[g].get(cid,0))
        p.patch(list(xs),list(ys),fill_color=c,line_color=c,line_width=1)
    p.scatter(A_DOTS_X[g],A_DOTS_Y[g],size=2.2,color="#7A6DB5")
    T(532+dx,42+dy,g,size=16,bold=True,align="center")
    vm,tk=A_CBAR[g]
    cbar(595.5+dx,63+dy,613+dx,143.5+dy,0,vm,[(v*vm,c) for v,c in PURPLE],tk,size=12.5,standoff=6)
# ---------------------------------------------------------------- panel B
pb=fig(913.4,61.7,1170.6,296,(-40.7,39.7),(-33.3,32.9),ml=60,mr=12,mb=50)
style(pb.xaxis[0],[-40,-20,0,20],size=14.5,label="tSNE_1",label_size=15,standoff=4,lab_standoff=2)
style(pb.yaxis[0],[-20,0,20],size=14.5,label="tSNE_2",label_size=15,standoff=4,lab_standoff=4)
pb.yaxis[0].major_label_orientation="horizontal"
for i,pts in enumerate(B_ALL):
    xs,ys=zip(*pts)
    pb.scatter(list(xs),list(ys),size=4,color=B_COLORS[i],line_color=None)
pb.text(B_LABEL_X,B_LABEL_Y,text=[str(i) for i in range(6)],text_font=value(FONT),text_font_size=value("10px"),text_align="center",text_baseline="middle",text_color="#111111")
ly=[141+16.93*i for i in range(6)]
canvas.scatter([1200]*6,ly,size=10,color=B_LEGEND)
T([1220]*6,ly,[str(i) for i in range(6)],size=14)
for gi,g in enumerate(B_GENES):
    dx=206*(gi%2); dy=155.7*(gi//2)
    p=fig(1302+dx,61+dy,1402+dx,143.3+dy,(-40.3,40.3),(-34,33.4),ml=50,mr=8,mb=42)
    style(p.xaxis[0],[-40,-20,0,20],size=12.5,label="tSNE_1",label_size=14,standoff=2,lab_standoff=2)
    style(p.yaxis[0],[-20,0,20],size=12.5,label="tSNE_2",label_size=14,standoff=2,lab_standoff=3)
    for i,pts in enumerate(B_ALL):
        xs,ys=zip(*pts)
        p.scatter(list(xs),list(ys),size=2.5,color=cmap(PURPLE,B_TINT[g][i]),line_color=None)
    T(1352+dx,44+dy,g,size=16,bold=True,align="center")
    vm,tk=B_CBAR[g]
    cbar(1417+dx,65.7+dy,1434+dx,145.7+dy,0,vm,[(v*vm,c) for v,c in PURPLE],tk,size=12.5,standoff=8)
# ---------------------------------------------------------------- panel C
GRID="#ECECEC"
pc=fig(188,395.7,443,634,(0,1),(-.59,3.59),ml=60,mr=20,mb=55)
pc.xgrid.visible=True; pc.xgrid.grid_line_color=GRID; pc.xgrid.ticker=FixedTicker(ticks=[.125,.25,.375,.5,.625,.75,.875])
style(pc.xaxis[0],[0,.25,.5,.75,1],labels=["0.00","0.25","0.50","0.75","1.00"],size=15,color="#666666",tick=4,line=None,tick_color="#333333",label="proportion",label_size=17,standoff=3,lab_standoff=4)
pc.xaxis[0].axis_label_text_color="#111111"
style(pc.yaxis[0],[0,1,2,3],labels=C_SAMPLES,size=15,color="#555555",tick=4,line=None,tick_color="#333333",standoff=3)
pc.outline_line_color="#555555"; pc.outline_line_width=1.5
left=np.zeros(4)
for vals,ci in [(C_CAF5,5),(C_CAF4,4),(C_CAF3,3),(C_CAF2,2),(C_CAF1,1),(C_CAF0,0)]:
    v=np.array(vals)
    pc.hbar(y=[0,1,2,3],left=left,right=left+v,height=.9,fill_color=C_COLORS[ci],line_color=None)
    left=left+v
pn=fig(463.7,395.7,556.7,634,(-28.6,710),(-.59,3.59),ml=10,mr=4,mb=55)
pn.border_fill_color="white"
pn.grid.visible=True; pn.grid.grid_line_color=GRID
pn.xgrid.ticker=FixedTicker(ticks=[100,200,300,400,500,600,0]); pn.ygrid.ticker=FixedTicker(ticks=[0,1,2,3])
style(pn.xaxis[0],[0,200,400,600],size=15,color="#666666",tick=0,line=None,label="cell_num",label_size=17,standoff=5,lab_standoff=4)
pn.xaxis[0].axis_label_text_color="#111111"
pn.yaxis[0].visible=False
pn.outline_line_color="#555555"; pn.outline_line_width=1.5
pn.hbar(y=[0,1,2,3],left=0,right=C_CELLS,height=.92,fill_color=C_CELL_COLORS,fill_alpha=.9,line_color=None)
T(17,418,"cluster",size=18)
for i,c in enumerate(C_CLUSTERS):
    yy=452+30.9*i
    canvas.quad(left=18,right=46,top=yy-14.2,bottom=yy+14.2,fill_color=C_COLORS[i],line_color=None)
    T(57,yy,c,size=15)
T(586.5,451.7,"Samples",size=19.5)
for i,s in enumerate(C_SAMPLES):
    yy=485+30.9*i
    canvas.quad(left=588,right=615.5,top=yy-14.2,bottom=yy+14.2,fill_color=C_CELL_COLORS[i],line_color=None)
    T(626.5,yy,s,size=16)
# ---------------------------------------------------------------- panel D
pd_=fig(882.5,372.7,1106.4,691,(-.59,5.58),(19.59,-.59),ml=12,mr=8,mb=100)
pd_.grid.visible=True; pd_.grid.grid_line_color="#EDEDED"; pd_.grid.grid_line_width=1.5
pd_.xgrid.ticker=FixedTicker(ticks=list(range(6))); pd_.ygrid.ticker=FixedTicker(ticks=list(range(20)))
style(pd_.yaxis[0],list(range(20)),labels=[" "]*20,size=6,tick=3,line=None,tick_color="#333333",standoff=0)
style(pd_.xaxis[0],list(range(6)),labels=D_CLUSTER_LABELS,size=13,color="#222222",tick=3,line=None,tick_color="#333333",standoff=4,orient=.785)
pd_.outline_line_color="#666666"; pd_.outline_line_width=1.2
pd_.scatter(D_COL,D_ROW,size=[10+20*r for r in D_RATIO],color=[cmap(PADJ,v) for v in D_PADJ],line_color=None)
for i,term in enumerate(D_TERMS):
    yc=382+15.79*i; parts=term.split("\n")
    for j,line in enumerate(parts):
        T(875,yc+(j-(len(parts)-1)/2)*13,line,size=14,align="right",color="#222222")
T(994,742,"Cluster",size=16,align="center",color="#222222")
T(1130,406.7,"GeneRatio",size=15,color="#222222")
for lab,yy,d in [("0.2",429.7,18),("0.4",451.3,21),("0.6",474.3,24),("0.8",500,26)]:
    canvas.scatter([1146],[yy],size=d,color="#000000")
    T(1170,yy,lab,size=12,color="#333333")
T(1130,547,"p.adjust",size=15,color="#222222")
cbar(1130.4,560,1154.6,664,0,.0465,PADJ,[.01,.02,.03,.04],size=12,labels=["0.01","0.02","0.03","0.04"],color="#333333",standoff=7)
# ---------------------------------------------------------------- panel E
def clip_points(sel):
    xs,ys,cs=[],[],[]
    for i,pts in enumerate(B_ALL):
        for j,(x,y) in enumerate(pts):
            if sel(i,j,x,y):
                xs.append(x); ys.append(y); cs.append(B_COLORS[i])
    return xs,ys,cs
in_n=lambda i,j,x,y:(i==0 and x<-27 and y<8) or i in (1,2) or (i==4 and not (x<0)) or (i==5 and j%2==0)
in_t=lambda i,j,x,y:(i==0 and (x>=-27 or y>=8)) or i==3 or (i==4 and x<0) or (i==5 and j%2==1)
pe=fig(1297.3,424,1431.7,664,(-40.7,39.3),(-33,32.7),ml=50,mr=3,mb=50)
style(pe.xaxis[0],[-40,-20,0,20],size=13,color="#222222",line="#BBBBBB",tick_color="#BBBBBB",standoff=4)
style(pe.yaxis[0],[-20,0,20],size=13,color="#222222",line="#BBBBBB",tick_color="#BBBBBB",label="tSNE_2",label_size=14,standoff=5,lab_standoff=4)
pe.yaxis[0].major_label_orientation="horizontal"
xs,ys,cs=clip_points(in_n); pe.scatter(xs,ys,size=3.2,color=cs,line_color=None)
pt=fig(1438.3,424,1573.3,664,(-40.9,39.5),(-33,32.7),ml=3,mr=3,mb=50,yloc=None)
style(pt.xaxis[0],[-40,-20,0,20],size=13,color="#222222",line="#BBBBBB",tick_color="#BBBBBB",standoff=4)
xs,ys,cs=clip_points(in_t); pt.scatter(xs,ys,size=3.2,color=cs,line_color=None)
T(1364,412.7,"N",size=12,bold=True,align="center"); T(1506,412.7,"T",size=12,bold=True,align="center")
T(1434.7,695.7,"tSNE_1",size=14,align="center")
ly=[503.3+17.8*i for i in range(6)]
canvas.scatter([1595]*6,ly,size=8.5,color=B_LEGEND)
T([1608]*6,ly,[str(i) for i in range(6)],size=12.5)
# ---------------------------------------------------------------- panel F
n_cols=sum(F_CLUSTER_COLS); unit=11.33; gap=.236
pf=fig(22.4,768,467.4,1131,(0,n_cols),(31.18,-.856),ml=0,mr=40,mt=2,mb=2,xloc=None,yloc="right")
lefts,rights,tops,bottoms,cols=[],[],[],[],[]
centres=[]
for r,row in enumerate(F_ROWS):
    segs=row.split(); y0=r+gap*(r//5); centres.append(y0+.5)
    c0=0
    for w,s in zip(F_CLUSTER_COLS,segs):
        s=(s+s[-1]*w)[:w]
        for k,ch in enumerate(s):
            lefts.append(c0+k); rights.append(c0+k+1); tops.append(y0); bottoms.append(y0+1); cols.append(cmap(HEAT,F_LEVELS[int(ch)]))
        c0+=w
pf.quad(left=lefts,right=rights,top=tops,bottom=bottoms,fill_color=cols,line_color=cols,line_width=.2)
c0=0
for w,c in zip(F_CLUSTER_COLS,F_CLUSTER_COLORS):
    pf.quad(left=c0,right=c0+w,top=-.856,bottom=-.176,fill_color=c,line_color=None); c0+=w
style(pf.yaxis[0],centres,labels=F_GENES,size=7,tick=0,line=None,standoff=2,color="#333333")
T(469,771.7,"celltype",size=7,bold=True)
cbar(504,767.3,511.3,877.7,-1.49,2.5,HEAT,[-1,0,1,2],size=7.5,color="#333333",standoff=3)
T(524,770,"celltype",size=7,bold=True)
for i,c in enumerate(F_CLUSTER_COLORS):
    canvas.quad(left=524.3,right=534.3,top=775+10.7*i,bottom=775+10.7*(i+1),fill_color=c,line_color=None)
    T(536.3,775+10.7*(i+.5),str(i),size=7,color="#333333")
# ---------------------------------------------------------------- panel G
pg=fig(617,777,1076.5,1121.7,(-.596,5.6),(29.55,-.55),ml=50,mr=6,mb=22)
pg.grid.visible=True; pg.grid.grid_line_color="#EFEFEF"
pg.xgrid.ticker=FixedTicker(ticks=list(range(6))); pg.ygrid.ticker=FixedTicker(ticks=list(range(30)))
style(pg.yaxis[0],list(range(30)),labels=G_GENES,size=8,color="#777777",tick=2,line=None,tick_color="#888888",standoff=1)
style(pg.xaxis[0],list(range(6)),size=6.5,color="#777777",tick=2,line=None,tick_color="#888888",standoff=3,orient=1.5708)
pg.outline_line_color="#AAAAAA"; pg.outline_line_width=1.5
gx=[c for r in range(30) for c in range(6)]; gy=[r for r in range(30) for c in range(6)]
gs=[3+10.3*np.sqrt(G_RATIO[r][c]) for r in range(30) for c in range(6)]
gc=[cmap(SPEC,G_EXP[r][c]) for r in range(30) for c in range(6)]
pg.scatter(gx,gy,size=gs,color=gc,line_color=None)
T(1091.7,870,"ratio",size=8.5,color="#333333")
for i,lab in enumerate(["0.00","0.25","0.50","0.75","1.00"]):
    yy=883.3+12.7*i; r=i*.25
    canvas.scatter([1099.3],[yy],size=3+10.3*np.sqrt(r),color="#000000")
    T(1112,yy,lab,size=7.5,color="#333333")
T(1091.7,961.7,"exp",size=8.5,color="#333333")
cbar(1092,969.3,1107,1032.7,-1,3,SPEC,[-1,0,1,2,3],size=7.5,color="#333333",standoff=5)
# ---------------------------------------------------------------- panel H
ph=fig(1185.7,781.7,1640,1126,(-.6,5.75),(-7.31,5.93),ml=60,mr=5,mb=10,xloc=None)
style(ph.yaxis[0],[-5,-2.5,0,2.5,5],labels=["−5.0","−2.5","0.0","2.5","5.0"],size=14,color="#888888",tick=3,line="#333333",lw=2.5,tick_color="#888888",standoff=1)
T(1150,953.7,"Average log2FoldChange",size=18,align="center",color="#222222",angle=1.5708)
K=list(range(6))
ph.quad(left=[k-.448 for k in K],right=[k+.448 for k in K],top=H_TOP,bottom=H_BOTTOM,fill_color="#EFEFEF",line_color=None)
edges=np.linspace(-.42,.42,17)
RED,BLU="#D13235","#1B9BD0"
for k in K:
    ph.quad(left=k+edges[:-1],right=k+edges[1:],top=H_UP_EDGE[k],bottom=.2,fill_color=RED,line_color=RED,line_width=.5)
    ph.quad(left=k+edges[:-1],right=k+edges[1:],top=-.2,bottom=H_DOWN_EDGE[k],fill_color=BLU,line_color=BLU,line_width=.5)
    ph.scatter(k+(edges[:-1]+edges[1:])/2,H_UP_EDGE[k],size=4,color=RED)
    ph.scatter(k+(edges[:-1]+edges[1:])/2,H_DOWN_EDGE[k],size=4,color=BLU)
    ux,uy=zip(*H_UP[k]); dx,dy=zip(*H_DOWN[k])
    ph.scatter([k+v for v in ux],list(uy),size=3.6,color=RED)
    ph.scatter([k+v for v in dx],list(dy),size=3.6,color=BLU)
ph.quad(left=[k-.5 for k in K],right=[k+.5 for k in K],top=.26,bottom=-.26,fill_color=H_BAR_COLORS,line_color="#444444",line_width=.8)
ph.text(K,[0]*6,text=[str(k) for k in K],text_font=value(FONT),text_font_size=value("14px"),text_align="center",text_baseline="middle",text_color="#111111")
ph.segment(H_SEG_X0,H_SEG_Y0,H_SEG_X1,H_SEG_Y1,line_color="#111111",line_width=1.2)
ph.text(H_LABEL_X,H_LABEL_Y,text=H_LABELS,text_font=value(FONT),text_font_size=value("11.5px"),text_align="center",text_baseline="middle",text_color="#111111")
for x,y,c,s in [(1518,791.7,BLU,"sigDown"),(1518,814.3,RED,"sigUp")]:
    canvas.scatter([x],[y],size=14,color=c)
    T(x+15,y,s,size=11.5)
cl=fig(1350,1130,1470,1148,(0,1),(0,1),ml=0,mr=0,mt=0,mb=0,xloc=None,yloc=None)
cl.text([.5],[.35],text=["Clusters"],text_font=value(FONT),text_font_size=value("14px"),text_align="center",text_baseline="middle",text_color="#111111")

PAGE.remove(canvas); PAGE.append(canvas)
root=Column(children=PAGE,width=1637,height=1132)
open("out.html","w").write(file_html(root,INLINE))
